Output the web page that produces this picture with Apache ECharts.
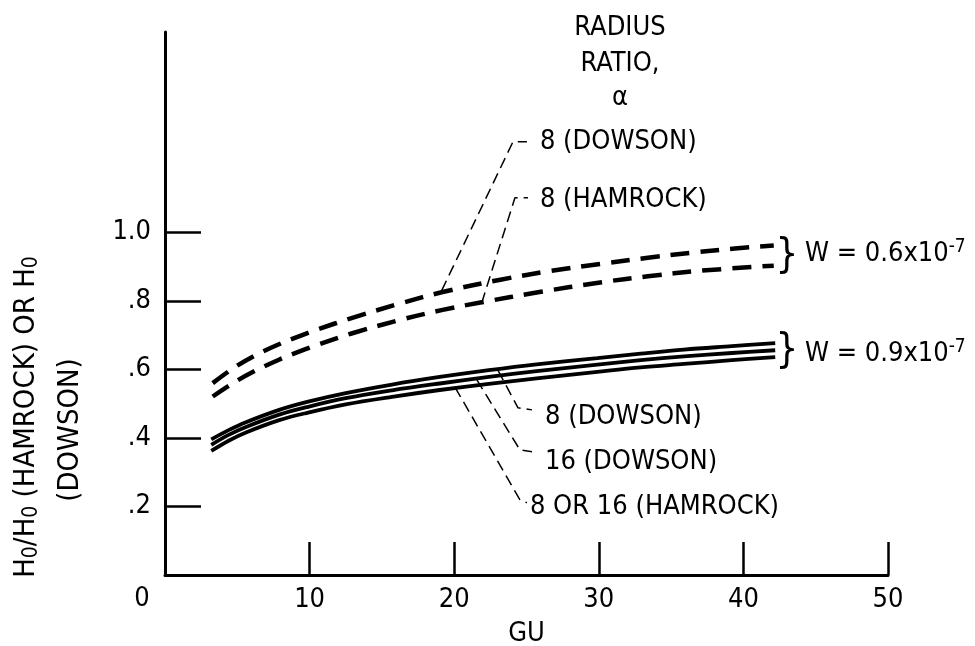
<!DOCTYPE html>
<html>
<head>
<meta charset="utf-8">
<script src="https://cdn.jsdelivr.net/npm/echarts@6/dist/echarts.min.js"></script>
<style>
html,body{margin:0;padding:0;background:#fff;}
#chart{width:975px;height:646px;}
</style>
</head>
<body>
<div id="chart"></div>
<script>
// ---- data ----
const xTicks = [10, 20, 30, 40, 50];
const yTicks = [0.2, 0.4, 0.6, 0.8, 1.0];
const yTickLabels = ['.2', '.4', '.6', '.8', '1.0'];

// W = 0.6x10^-7 (dashed)
const guDowson8W06 = [3.3, 4.7, 6.1, 7.8, 9.4, 10.5, 12.9, 16.3, 19.2, 23.2, 26.6, 30.1, 33.4, 36.5, 39.4, 42.1];
const hDowson8W06  = [0.560, 0.603, 0.638, 0.672, 0.699, 0.716, 0.750, 0.793, 0.826, 0.862, 0.887, 0.908, 0.926, 0.941, 0.953, 0.962];
const guHamrock8W06 = [3.3, 4.7, 6.1, 7.8, 9.4, 10.5, 12.9, 16.3, 19.2, 21.9, 25.9, 30.1, 33.4, 37.0, 42.1];
const hHamrock8W06  = [0.521, 0.560, 0.593, 0.627, 0.654, 0.671, 0.705, 0.745, 0.774, 0.796, 0.826, 0.854, 0.872, 0.888, 0.903];

// W = 0.9x10^-7 (solid)
const guW09 = [3.2, 4.4, 5.6, 7.9, 9.9, 12.5, 15.7, 19.0, 22.4, 25.7, 29.9, 32.9, 35.9, 39.2, 42.2];
const hDowson8W09   = [0.396, 0.423, 0.446, 0.482, 0.506, 0.531, 0.556, 0.578, 0.598, 0.615, 0.633, 0.646, 0.658, 0.668, 0.677];
const hDowson16W09  = [0.380, 0.409, 0.432, 0.468, 0.491, 0.516, 0.539, 0.559, 0.578, 0.595, 0.614, 0.627, 0.638, 0.648, 0.656];
const hHamrockW09   = [0.362, 0.392, 0.416, 0.452, 0.474, 0.498, 0.520, 0.540, 0.558, 0.574, 0.593, 0.606, 0.616, 0.627, 0.636];

// leader lines (GU, H) and their labels
const leaderLabels = ['8 (DOWSON)', '8 (HAMROCK)', '8 (DOWSON)', '16 (DOWSON)', '8 OR 16 (HAMROCK)'];
const leaderGU = [
  [19.13, 24.07, 25.03],
  [21.90, 24.20, 25.10],
  [23.03, 24.41, 25.38],
  [21.56, 24.55, 25.38],
  [20.06, 24.55, 25.03]
];
const leaderH = [
  [0.830, 1.265, 1.265],
  [0.794, 1.101, 1.101],
  [0.597, 0.488, 0.482],
  [0.570, 0.365, 0.360],
  [0.548, 0.219, 0.211]
];
const leaderLabelGap = [13, 12, 13, 13, 3];
const leaderLabelDy = [0, 2, 7, 10, 4];

const FONT = "'Liberation Sans Narrow', 'Arial Narrow', 'DejaVu Sans Condensed', sans-serif";
const FS = 27;

function pairs(xs, ys) { return xs.map((x, i) => [x, ys[i]]); }

const chart = echarts.init(document.getElementById('chart'), null, {renderer: 'canvas'});

const series = [];
function curve(xs, ys, dashed) {
  series.push({
    type: 'line', data: pairs(xs, ys), smooth: 0.35, symbol: 'none', silent: true,
    lineStyle: dashed
      ? {color: '#000', width: 4.5, type: [19, 11], cap: 'butt'}
      : {color: '#000', width: 3.8, type: 'solid'},
    z: 3
  });
}
curve(guDowson8W06, hDowson8W06, true);
curve(guHamrock8W06, hHamrock8W06, true);
curve(guW09, hDowson8W09, false);
curve(guW09, hDowson16W09, false);
curve(guW09, hHamrockW09, false);

leaderLabels.forEach((lab, i) => {
  series.push({
    type: 'line', data: pairs(leaderGU[i], leaderH[i]), smooth: false, symbol: 'none', silent: true,
    lineStyle: {color: '#000', width: 1.5, type: [11, 6]},
    endLabel: {show: true, formatter: lab, color: '#000', fontSize: FS, fontFamily: FONT,
               distance: leaderLabelGap[i], offset: [0, leaderLabelDy[i]]},
    z: 2
  });
});

const supRich = {sup: {fontSize: 19, fontFamily: FONT, fill: '#000', lineHeight: 10, verticalAlign: 'top'}};
const subRich = {sub: {fontSize: 21, fontFamily: FONT, fill: '#000', lineHeight: 10, verticalAlign: 'bottom'}};

const option = {
  backgroundColor: '#fff',
  animation: false,
  grid: {left: 165, top: 32, width: 723, height: 543, containLabel: false, outerBoundsMode: 'none'},
  xAxis: {
    type: 'value', min: 0, max: 50, interval: 10,
    axisLine: {lineStyle: {color: '#000', width: 3}},
    axisTick: {show: true, inside: true, length: 33, customValues: xTicks, lineStyle: {color: '#000', width: 2.5}},
    axisLabel: {customValues: xTicks, color: '#000', fontSize: FS, fontFamily: FONT, margin: 11},
    splitLine: {show: false},
    name: 'GU', nameLocation: 'middle', nameGap: 45,
    nameTextStyle: {color: '#000', fontSize: FS, fontFamily: FONT}
  },
  yAxis: {
    type: 'value', min: 0, max: 1.585,
    axisLine: {lineStyle: {color: '#000', width: 3}},
    axisTick: {show: true, inside: true, length: 36, customValues: yTicks, lineStyle: {color: '#000', width: 2.5}},
    axisLabel: {
      customValues: yTicks, color: '#000', fontSize: FS, fontFamily: FONT, margin: 14,
      formatter: v => { const k = yTicks.findIndex(t => Math.abs(t - v) < 1e-6); return k >= 0 ? yTickLabels[k] : ''; }
    },
    splitLine: {show: false}
  },
  graphic: [
    {type: 'text', x: 142, y: 599, style: {text: '0', font: FS + 'px ' + FONT, fill: '#000', align: 'center', verticalAlign: 'middle'}},
    {type: 'text', x: 620, y: 28, style: {text: 'RADIUS', font: FS + 'px ' + FONT, fill: '#000', align: 'center', verticalAlign: 'middle'}},
    {type: 'text', x: 620, y: 64, style: {text: 'RATIO,', font: FS + 'px ' + FONT, fill: '#000', align: 'center', verticalAlign: 'middle'}},
    {type: 'text', x: 620, y: 98, style: {text: 'α', font: FS + 'px ' + FONT, fill: '#000', align: 'center', verticalAlign: 'middle'}},
    {type: 'text', x: 787, y: 257, style: {text: '}', font: '40px ' + FONT, fill: '#000', align: 'center', verticalAlign: 'middle'}},
    {type: 'text', x: 787, y: 352, style: {text: '}', font: '40px ' + FONT, fill: '#000', align: 'center', verticalAlign: 'middle'}},
    {type: 'text', x: 805, y: 254, style: {
      text: 'W = 0.6x10{sup|-7}', font: FS + 'px ' + FONT, fill: '#000', align: 'left', verticalAlign: 'middle',
      lineHeight: 32, rich: supRich
    }},
    {type: 'text', x: 805, y: 354, style: {
      text: 'W = 0.9x10{sup|-7}', font: FS + 'px ' + FONT, fill: '#000', align: 'left', verticalAlign: 'middle',
      lineHeight: 32, rich: supRich
    }},
    {type: 'text', x: 26, y: 417, rotation: Math.PI / 2, style: {
      text: 'H{sub|0}/H{sub|0} (HAMROCK) OR H{sub|0}', font: '29px ' + FONT, fill: '#000', align: 'center', verticalAlign: 'middle',
      lineHeight: 32, rich: subRich
    }},
    {type: 'text', x: 70, y: 430, rotation: Math.PI / 2, style: {
      text: '(DOWSON)', font: '29px ' + FONT, fill: '#000', align: 'center', verticalAlign: 'middle'
    }}
  ],
  series: series
};
chart.setOption(option);
</script>
</body>
</html>
